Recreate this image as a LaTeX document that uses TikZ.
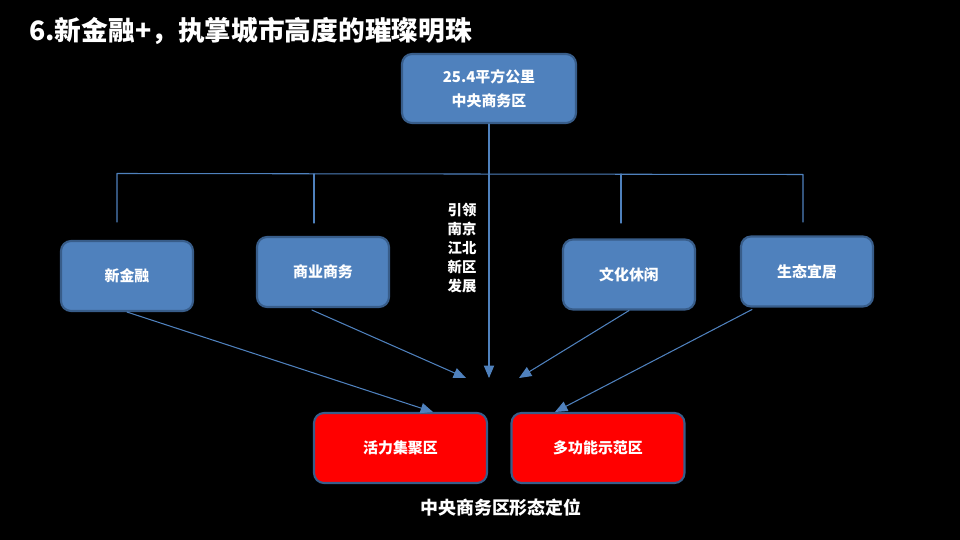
\documentclass[tikz,border=0pt]{standalone}
\usepackage{fontspec}
\newfontfamily\cjk{Noto Sans CJK SC}
\usetikzlibrary{arrows}
\definecolor{kastenblau}{HTML}{4F81BD}
\definecolor{randblau}{HTML}{385D8A}

\tikzset{
	kasten/.style={draw=randblau, line width=1.2pt, fill=kastenblau, rounded corners=0.2cm,
		minimum width=2.64cm, minimum height=1.4cm, text=white, font=\cjk\bfseries\fontsize{8.5}{13.5}\selectfont, align=center},
	rotkasten/.style={kasten, fill=red, minimum width=3.46cm},
	linie/.style={draw=kastenblau, line width=0.6pt},
	pfeil/.style={linie, ->}
}

\begin{document}
\begin{tikzpicture}[line cap=round,line join=round,>=triangle 45,x=0.02cm,y=-0.02cm]
		% Hintergrund
		\fill[black] (0,0) rectangle (960,540);
		\useasboundingbox (0,0) rectangle (960,540);

		% Titel
		\node[anchor=west, text=white, font=\cjk\bfseries\fontsize{15.2}{17}\selectfont, inner sep=0pt] (titel) at (29,31) {6.新金融+，执掌城市高度的璀璨明珠};

		% Kaesten
		\node[kasten, minimum width=3.48cm, minimum height=1.38cm] (cbd) at (489,88.5) {25.4平方公里\\中央商务区};
		\node[kasten] (finanz) at (127,276) {新金融};
		\node[kasten] (handel) at (323,272) {商业商务};
		\node[kasten] (kultur) at (629,274.5) {文化休闲};
		\node[kasten] (oeko) at (807,271.5) {生态宜居};
		\node[rotkasten] (vital) at (400.5,448) {活力集聚区};
		\node[rotkasten] (multi) at (598,448) {多功能示范区};

		% Verteiler oben
		\coordinate (v1) at (117,222);
		\coordinate (v2) at (314,223);
		\coordinate (v3) at (621,223);
		\coordinate (v4) at (803,222);
		\draw[linie] (v1) -- (117,173.5) -- (803,174.5) -- (v4);
		\draw[linie] (v2) -- (314,174);
		\draw[linie] (v3) -- (621,174);

		% Pfeile nach unten
		\coordinate (m1) at (466,378);
		\coordinate (m2) at (489,378);
		\coordinate (m3) at (519,378);
		\draw[pfeil] (cbd.south) -- (m2);
		\draw[pfeil] (finanz.south) -- (433,412);
		\draw[pfeil] (handel.south west) ++(56,2) -- (m1);
		\draw[pfeil] (kultur.south) -- (m3);
		\draw[pfeil] (oeko.south west) ++(12,2) -- (555,412);

		% Beschriftung
		\node[text=white, font=\cjk\bfseries\fontsize{8.2}{10.8}\selectfont, align=center, inner sep=0pt] (leit) at (462,248) {引领\\南京\\江北\\新区\\发展};
		\node[text=white, font=\cjk\bfseries\fontsize{10.2}{12}\selectfont, inner sep=0pt] (unter) at (501,508) {中央商务区形态定位};
	\end{tikzpicture}
\end{document}
